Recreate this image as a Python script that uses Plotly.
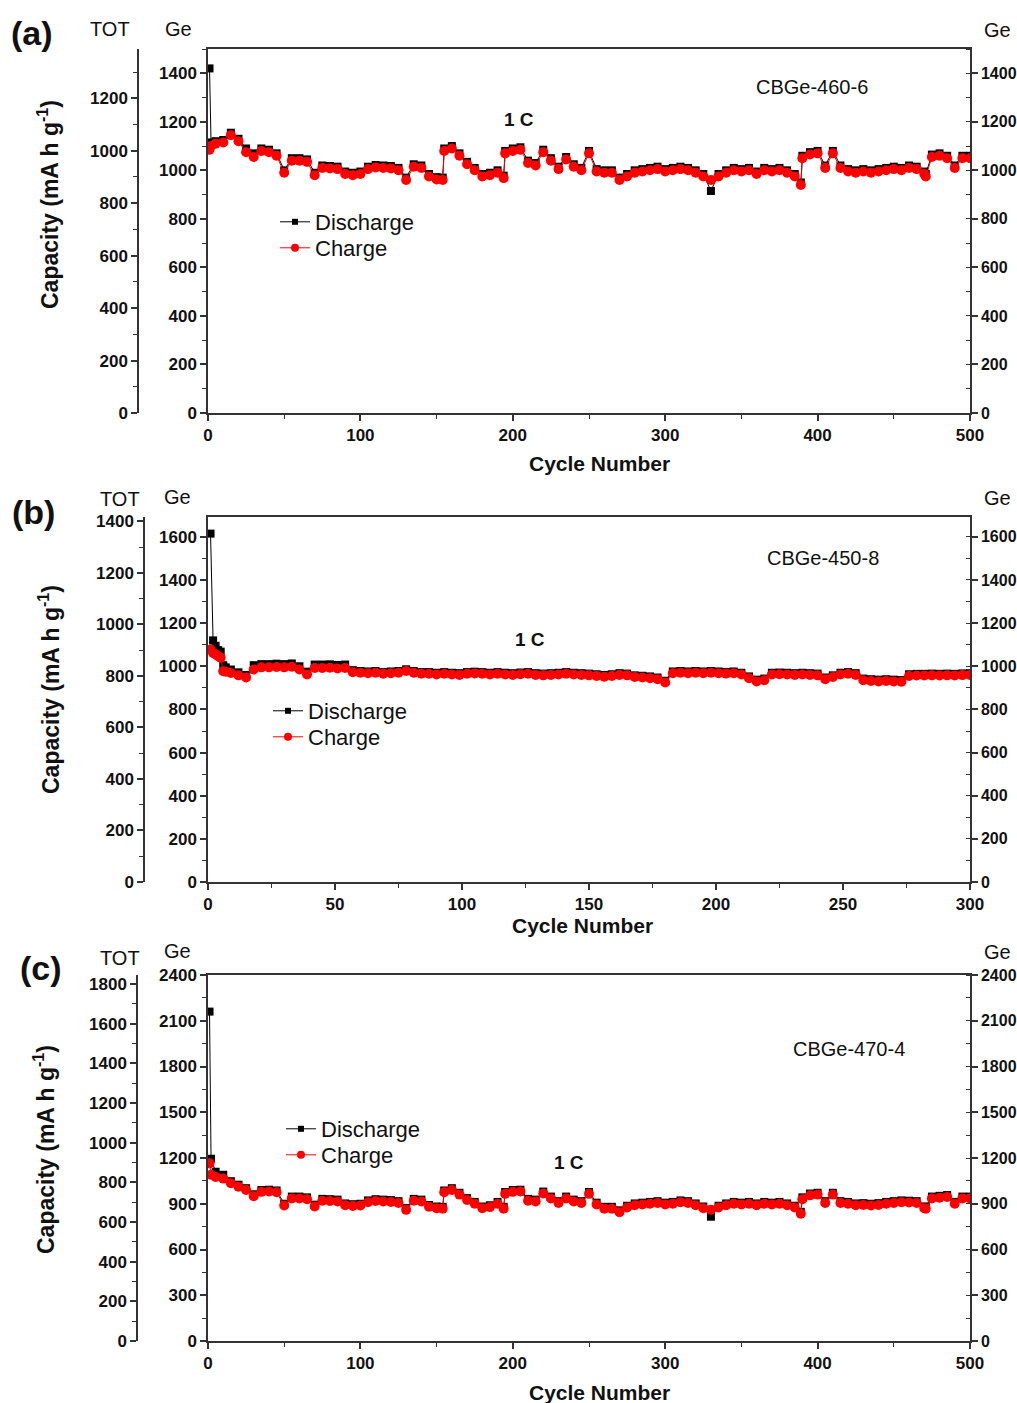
import plotly.graph_objects as go

# ---------------- data ----------------
cycles_ac = [1, 2, 5, 10, 15, 20, 25, 30, 35, 40,
             45, 50, 55, 60, 65, 70, 75, 80, 85, 90,
             95, 100, 105, 110, 115, 120, 125, 130, 135, 140,
             145, 150, 154, 155, 160, 165, 170, 175, 180, 185,
             190, 194, 195, 200, 205, 210, 215, 220, 225, 230,
             235, 240, 245, 250, 255, 260, 265, 270, 275, 280,
             285, 290, 295, 300, 305, 310, 315, 320, 325, 330,
             335, 340, 345, 350, 355, 360, 365, 370, 375, 380,
             385, 389, 390, 395, 400, 405, 410, 415, 420, 425,
             430, 435, 440, 445, 450, 455, 460, 465, 470, 471,
             475, 480, 485, 490, 495, 500]

charge_a = [1085, 1100, 1110, 1115, 1145, 1120, 1075, 1055, 1080, 1075,
            1060, 990, 1040, 1040, 1035, 980, 1010, 1008, 1005, 985,
            980, 985, 1005, 1012, 1010, 1008, 1000, 960, 1015, 1010,
            975, 962, 960, 1080, 1090, 1060, 1025, 1000, 975, 980,
            990, 968, 1070, 1080, 1085, 1030, 1020, 1075, 1040, 1005,
            1045, 1015, 1000, 1070, 995, 990, 990, 960, 975, 990,
            995, 1000, 1005, 995, 1000, 1005, 1000, 990, 975, 960,
            975, 990, 1000, 995, 1000, 985, 1000, 995, 1000, 990,
            975, 940, 1050, 1065, 1070, 1010, 1070, 1010, 995, 990,
            995, 990, 995, 1000, 1005, 1000, 1010, 1005, 985, 975,
            1055, 1060, 1050, 1010, 1050, 1050]

discharge_a = [1420, 1115, 1120, 1125, 1155, 1130, 1090, 1070, 1090, 1085,
               1070, 1000, 1050, 1050, 1045, 990, 1020, 1018, 1015, 995,
               990, 995, 1015, 1022, 1020, 1018, 1010, 970, 1025, 1020,
               985, 972, 970, 1090, 1100, 1070, 1035, 1010, 985, 990,
               1000, 978, 1080, 1090, 1095, 1040, 1030, 1085, 1050, 1015,
               1055, 1025, 1010, 1080, 1005, 1000, 1000, 970, 985, 1000,
               1005, 1010, 1015, 1005, 1010, 1015, 1010, 1000, 985, 915,
               985, 1000, 1010, 1005, 1010, 995, 1010, 1005, 1010, 1000,
               985, 950, 1060, 1075, 1080, 1020, 1080, 1020, 1005, 1000,
               1005, 1000, 1005, 1010, 1015, 1010, 1020, 1015, 995, 985,
               1065, 1070, 1060, 1020, 1060, 1060]

cycles_b = [1, 2, 3, 4, 5, 6, 7, 9,
            12, 15, 18, 21, 24, 27, 30, 33, 36, 39,
            42, 45, 48, 51, 54, 57, 60, 63, 66, 69,
            72, 75, 78, 81, 84, 87, 90, 93, 96, 99,
            102, 105, 108, 111, 114, 117, 120, 123, 126, 129,
            132, 135, 138, 141, 144, 147, 150, 153, 156, 159,
            162, 165, 168, 171, 174, 177, 180, 183, 186, 189,
            192, 195, 198, 201, 204, 207, 210, 213, 216, 219,
            222, 225, 228, 231, 234, 237, 240, 243, 246, 249,
            252, 255, 258, 261, 264, 267, 270, 273, 276, 279,
            282, 285, 288, 291, 294, 297, 300]

charge_b = [1078, 1062, 1055, 1047, 1040, 977, 975, 969,
            958, 948, 985, 995, 995, 997, 995, 998, 985, 962,
            992, 992, 993, 990, 992, 972, 970, 968, 970, 965,
            968, 970, 978, 970, 965, 965, 962, 965, 962, 960,
            965, 967, 965, 962, 965, 962, 960, 963, 965, 960,
            958, 960, 962, 965, 962, 960, 958, 955, 952, 955,
            960, 958, 950, 948, 945, 940, 925, 968, 970, 968,
            970, 968, 970, 968, 966, 968, 962, 945, 930, 935,
            962, 963, 962, 960, 962, 960, 958, 940, 950, 962,
            965, 960, 935, 932, 930, 932, 930, 928, 955, 957,
            957, 958, 957, 958, 957, 959, 960]

discharge_b = [1615, 1120, 1095, 1075, 1068, 1005, 995, 985,
               972, 960, 1005, 1010, 1010, 1012, 1010, 1013, 1000, 975,
               1008, 1008, 1009, 1006, 1008, 982, 978, 976, 978, 973,
               976, 978, 986, 978, 973, 973, 970, 973, 970, 968,
               973, 975, 973, 970, 973, 970, 968, 971, 973, 968,
               966, 968, 970, 973, 970, 968, 966, 963, 960, 963,
               968, 966, 958, 956, 953, 948, 933, 976, 978, 976,
               978, 976, 978, 976, 974, 976, 970, 953, 938, 943,
               970, 971, 970, 968, 970, 968, 966, 948, 958, 970,
               973, 968, 943, 940, 938, 940, 938, 936, 963, 965,
               965, 966, 965, 966, 965, 967, 968]

charge_c = [1165, 1090, 1075, 1065, 1035, 1012, 990, 950, 978, 980,
            975, 888, 935, 935, 930, 882, 920, 918, 915, 890,
            885, 888, 910, 918, 915, 912, 905, 860, 920, 915,
            880, 870, 868, 975, 990, 960, 925, 900, 870, 878,
            900, 868, 965, 978, 980, 920, 915, 968, 935, 905,
            935, 915, 905, 965, 895, 868, 868, 845, 875, 890,
            895, 900, 905, 895, 900, 910, 905, 890, 870, 860,
            875, 890, 900, 895, 900, 890, 900, 895, 900, 890,
            875, 835, 930, 955, 960, 905, 960, 905, 900, 890,
            892, 888, 892, 900, 905, 910, 908, 905, 870, 868,
            935, 940, 945, 900, 935, 935]

discharge_c = [2160, 1195, 1110, 1090, 1048, 1025, 1002, 962, 990, 992,
               987, 900, 947, 947, 942, 894, 932, 930, 927, 902,
               897, 900, 922, 930, 927, 924, 917, 872, 932, 927,
               892, 882, 880, 987, 1002, 972, 937, 912, 882, 890,
               912, 880, 977, 990, 992, 932, 927, 980, 947, 917,
               947, 927, 917, 977, 907, 880, 880, 857, 887, 902,
               907, 912, 917, 907, 912, 922, 917, 902, 882, 815,
               887, 902, 912, 907, 912, 902, 912, 907, 912, 902,
               887, 847, 942, 967, 972, 917, 972, 917, 912, 902,
               904, 900, 904, 912, 917, 922, 920, 917, 882, 880,
               947, 952, 957, 912, 947, 947]

panel_labels = ["(a)", "(b)", "(c)"]
sample_names = ["CBGe-460-6", "CBGe-450-8", "CBGe-470-4"]
rate_label = "1 C"
series_names = ["Discharge", "Charge"]
x_title = "Cycle Number"
y_title = "Capacity (mA h g<sup>-1</sup>)"

# ---------------- layout helpers ----------------
W, H = 1017, 1403
ML, MR, MT, MB = 0, 47, 49, 62
PW = W - ML - MR
PH = H - MT - MB


def px(xp):
    return (xp - ML) / PW


def py(yp):
    return (H - MB - yp) / PH


FONT = "Arial, Liberation Sans, sans-serif"
AX = "#333333"
TXT = "#111111"

panels = [
    dict(cyc=cycles_ac, dis=discharge_a, chg=charge_a, xr=[0, 500], xd=100, xm=50,
         ge=[0, 1500], gd=200, gm=100, tot=[0, 1388], top=49, bot=413, totx=138,
         lab=(32, 33), totlab=(110, 29), gel=(178, 29), ger=(998, 30),
         name=(812, 87), rate=(519, 120), cap=(48, 205), xt=(599, 463),
         leg=(275, 222, 248)),
    dict(cyc=cycles_b, dis=discharge_b, chg=charge_b, xr=[0, 300], xd=50, xm=25,
         ge=[0, 1692], gd=200, gm=100, tot=[0, 1417], top=517, bot=882, totx=144,
         lab=(33, 512), totlab=(120, 499), gel=(177, 497), ger=(998, 498),
         name=(823, 558), rate=(530, 640), cap=(49, 690), xt=(582, 925),
         leg=(268, 711, 737)),
    dict(cyc=cycles_ac, dis=discharge_c, chg=charge_c, xr=[0, 500], xd=100, xm=50,
         ge=[0, 2400], gd=300, gm=150, tot=[0, 1845], top=975, bot=1341, totx=137,
         lab=(41, 968), totlab=(120, 958), gel=(177, 951), ger=(998, 952),
         name=(849, 1049), rate=(569, 1162), cap=(44, 1150), xt=(599, 1392),
         leg=(281, 1129, 1155)),
]

fig = go.Figure()
layout = dict(
    width=W, height=H, margin=dict(l=ML, r=MR, t=MT, b=MB, autoexpand=False),
    paper_bgcolor="white", plot_bgcolor="white", showlegend=True,
    font=dict(family=FONT, color=TXT),
)
annotations = []

tickfont = dict(family=FONT, size=17, color=TXT, weight="bold")
base_axis = dict(showline=True, linecolor=AX, linewidth=1.5, ticks="outside", ticklen=6,
                 tickwidth=1.5, tickcolor=AX, showgrid=False, zeroline=False,
                 tickfont=tickfont, automargin=False)


def minor(dt, where="outside"):
    return dict(dtick=dt, tick0=0, ticks=where, ticklen=4, tickwidth=1.2,
                tickcolor=AX, showgrid=False)


def ann(text, pos, size, bold=False, angle=0):
    annotations.append(dict(
        text=text, x=px(pos[0]), y=py(pos[1]), xref="paper", yref="paper",
        xanchor="center", yanchor="middle", showarrow=False, textangle=angle,
        font=dict(family=FONT, size=size, color=TXT,
                  weight="bold" if bold else "normal")))


leg_idx = 0
for i, p in enumerate(panels):
    xn = "x" if i == 0 else f"x{i + 1}"
    xk = "xaxis" if i == 0 else f"xaxis{i + 1}"
    yl = 3 * i + 1
    yr = 3 * i + 2
    yt = 3 * i + 3
    yln = "y" if yl == 1 else f"y{yl}"
    ylk = "yaxis" if yl == 1 else f"yaxis{yl}"
    dom = [py(p["bot"]), py(p["top"])]

    layout[xk] = dict(base_axis, domain=[px(208), 1], range=p["xr"], anchor=yln,
                      dtick=p["xd"], tick0=0, mirror=True, minor=minor(p["xm"]))
    layout[ylk] = dict(base_axis, domain=dom, range=p["ge"], anchor=xn, side="left",
                       dtick=p["gd"], tick0=0, minor=minor(p["gm"]))
    layout[f"yaxis{yr}"] = dict(base_axis, domain=dom, range=p["ge"], anchor=xn,
                                overlaying=yln, side="right", dtick=p["gd"], tick0=0,
                                tickfont=dict(tickfont, size=16),
                                minor=minor(p["gm"], "inside"))
    layout[f"yaxis{yt}"] = dict(base_axis, domain=dom, range=p["tot"], anchor="free",
                                overlaying=yln, side="left", position=px(p["totx"]),
                                dtick=200, tick0=0, minor=minor(100))

    # empty traces so that the right Ge axis and the TOT axis are drawn
    for k in (yr, yt):
        fig.add_trace(go.Scatter(x=[None], y=[None], xaxis=xn, yaxis=f"y{k}",
                                 mode="markers", showlegend=False, hoverinfo="skip"))

    # data traces (legend entries are drawn by separate small-marker entries)
    fig.add_trace(go.Scatter(
        x=p["cyc"], y=p["dis"], xaxis=xn, yaxis=yln, name=series_names[0],
        mode="lines+markers", showlegend=False,
        line=dict(color="black", width=1),
        marker=dict(symbol="square", size=8, color="black")))
    fig.add_trace(go.Scatter(
        x=p["cyc"], y=p["chg"], xaxis=xn, yaxis=yln, name=series_names[1],
        mode="lines+markers", showlegend=False,
        line=dict(color="#ff0000", width=1),
        marker=dict(symbol="circle", size=10, color="#ff0000")))

    styles = [
        dict(line=dict(color="black", width=1), marker=dict(symbol="square", size=6, color="black")),
        dict(line=dict(color="#ff0000", width=1), marker=dict(symbol="circle", size=8, color="#ff0000")),
    ]
    for k in range(2):
        leg_idx += 1
        lname = "legend" if leg_idx == 1 else f"legend{leg_idx}"
        fig.add_trace(go.Scatter(
            x=[None], y=[None], xaxis=xn, yaxis=yln, name=series_names[k],
            mode="lines+markers", legend=lname, hoverinfo="skip", **styles[k]))
        layout[lname] = dict(x=px(p["leg"][0]), y=py(p["leg"][1 + k]),
                             xanchor="left", yanchor="middle",
                             bgcolor="rgba(0,0,0,0)", borderwidth=0, itemwidth=30,
                             font=dict(family=FONT, size=22, color=TXT))

    ann(panel_labels[i], p["lab"], 34, bold=True)
    ann("TOT", p["totlab"], 20)
    ann("Ge", p["gel"], 20)
    ann("Ge", p["ger"], 20)
    ann(sample_names[i], p["name"], 20)
    ann(rate_label, p["rate"], 19, bold=True)
    ann(y_title, p["cap"], 23, bold=True, angle=-90)
    ann(x_title, p["xt"], 21, bold=True)

layout["annotations"] = annotations
fig.update_layout(**layout)
fig.write_html("out.html")
